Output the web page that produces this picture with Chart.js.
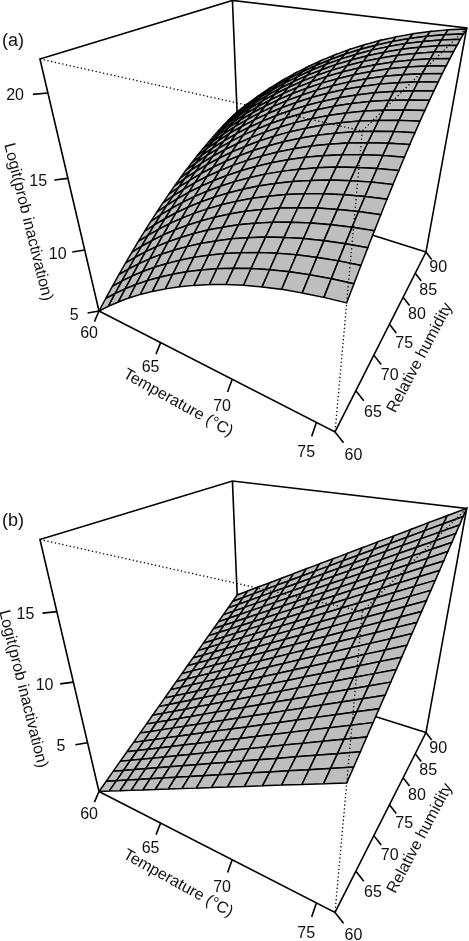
<!DOCTYPE html>
<html>
<head>
<meta charset="utf-8">
<title>Logit(prob inactivation) surfaces</title>
<script src="https://cdn.jsdelivr.net/npm/chart.js@4"></script>
<style>
    html, body { margin: 0; background: #fff; overflow: hidden; }
    canvas { position: absolute; left: 0; }
    #surfaceChartA { top: 0; }
    #surfaceChartB { top: 480px; }
</style>
</head>
<body>
<canvas id="surfaceChartA" width="469" height="480"></canvas>
<canvas id="surfaceChartB" width="469" height="480"></canvas>
<script>
// grid of the two fitted surfaces
const temperatures = [60, 61, 62, 63, 64, 65, 66, 67, 68, 69, 70, 71, 72, 73, 74, 75, 76];
const humidities = [60, 61.25, 62.5, 63.75, 65, 66.25, 67.5, 68.75, 70, 71.25, 72.5, 73.75, 75, 76.25, 77.5, 78.75, 80, 81.25, 82.5, 83.75, 85, 86.25, 87.5, 88.75, 90];

// tick labels
const temperatureTicks = [60, 65, 70, 75];
const humidityTicks = [60, 65, 70, 75, 80, 85, 90];
const logitTicksA = [5, 10, 15, 20];
const logitTicksB = [5, 10, 15];

// axis limits
const temperatureRange = [60, 76];
const humidityRange = [60, 90];
const logitRangeA = [5, 21.76];
const logitRangeB = [0.4, 19.4];

// logit per temperature (rows) and humidity (columns), estimated by eye from the mesh
// edges in the picture and smoothed by hand, so these are not exact readings
const logitA = [
    [5.00,5.52,6.02,6.51,6.98,7.43,7.87,8.29,8.69,9.08,9.45,9.80,10.14,10.46,10.77,11.05,11.33,11.58,11.82,12.04,12.25,12.44,12.62,12.77,12.91],
    [5.92,6.44,6.94,7.43,7.90,8.35,8.79,9.21,9.61,10.00,10.37,10.72,11.06,11.38,11.69,11.97,12.25,12.50,12.74,12.96,13.17,13.36,13.54,13.69,13.83],
    [6.79,7.31,7.81,8.30,8.77,9.22,9.66,10.08,10.48,10.87,11.24,11.59,11.93,12.25,12.56,12.84,13.12,13.37,13.61,13.83,14.04,14.23,14.41,14.56,14.70],
    [7.62,8.14,8.64,9.13,9.60,10.05,10.49,10.91,11.31,11.70,12.07,12.42,12.76,13.08,13.39,13.67,13.95,14.20,14.44,14.66,14.87,15.06,15.24,15.39,15.53],
    [8.39,8.91,9.41,9.90,10.37,10.82,11.26,11.68,12.08,12.47,12.84,13.19,13.53,13.85,14.16,14.44,14.72,14.97,15.21,15.43,15.64,15.83,16.01,16.16,16.30],
    [9.11,9.63,10.13,10.62,11.09,11.54,11.98,12.40,12.80,13.19,13.56,13.91,14.25,14.57,14.88,15.16,15.44,15.69,15.93,16.15,16.36,16.55,16.73,16.88,17.02],
    [9.78,10.30,10.80,11.29,11.76,12.21,12.65,13.07,13.47,13.86,14.23,14.58,14.92,15.24,15.55,15.83,16.11,16.36,16.60,16.82,17.03,17.22,17.40,17.55,17.69],
    [10.41,10.93,11.43,11.92,12.39,12.84,13.28,13.70,14.10,14.49,14.86,15.21,15.55,15.87,16.18,16.46,16.74,16.99,17.23,17.45,17.66,17.85,18.03,18.18,18.32],
    [10.98,11.50,12.00,12.49,12.96,13.41,13.85,14.27,14.67,15.06,15.43,15.78,16.12,16.44,16.75,17.03,17.31,17.56,17.80,18.02,18.23,18.42,18.60,18.75,18.89],
    [11.51,12.03,12.53,13.02,13.49,13.94,14.38,14.80,15.20,15.59,15.96,16.31,16.65,16.97,17.28,17.56,17.84,18.09,18.33,18.55,18.76,18.95,19.13,19.28,19.42],
    [11.98,12.50,13.00,13.49,13.96,14.41,14.85,15.27,15.67,16.06,16.43,16.78,17.12,17.44,17.75,18.03,18.31,18.56,18.80,19.02,19.23,19.42,19.60,19.75,19.89],
    [12.41,12.93,13.43,13.92,14.39,14.84,15.28,15.70,16.10,16.49,16.86,17.21,17.55,17.87,18.18,18.46,18.74,18.99,19.23,19.45,19.66,19.85,20.03,20.18,20.32],
    [12.78,13.30,13.80,14.29,14.76,15.21,15.65,16.07,16.47,16.86,17.23,17.58,17.92,18.24,18.55,18.83,19.11,19.36,19.60,19.82,20.03,20.22,20.40,20.55,20.69],
    [13.11,13.63,14.13,14.62,15.09,15.54,15.98,16.40,16.80,17.19,17.56,17.91,18.25,18.57,18.88,19.16,19.44,19.69,19.93,20.15,20.36,20.55,20.73,20.88,21.02],
    [13.38,13.90,14.40,14.89,15.36,15.81,16.25,16.67,17.07,17.46,17.83,18.18,18.52,18.84,19.15,19.43,19.71,19.96,20.20,20.42,20.63,20.82,21.00,21.15,21.29],
    [13.61,14.13,14.63,15.12,15.59,16.04,16.48,16.90,17.30,17.69,18.06,18.41,18.75,19.07,19.38,19.66,19.94,20.19,20.43,20.65,20.86,21.05,21.23,21.38,21.52],
    [13.79,14.31,14.81,15.30,15.77,16.22,16.66,17.08,17.48,17.87,18.24,18.59,18.93,19.25,19.56,19.84,20.12,20.37,20.61,20.83,21.04,21.23,21.41,21.56,21.70]
];

const logitB = [
    [0.40,0.76,1.13,1.49,1.85,2.21,2.58,2.94,3.30,3.66,4.03,4.39,4.75,5.11,5.48,5.84,6.20,6.56,6.93,7.29,7.65,8.01,8.38,8.74,9.10],
    [1.03,1.39,1.75,2.12,2.48,2.84,3.21,3.57,3.93,4.30,4.66,5.02,5.39,5.75,6.11,6.48,6.84,7.20,7.57,7.93,8.29,8.66,9.02,9.38,9.75],
    [1.65,2.01,2.38,2.74,3.11,3.47,3.83,4.20,4.56,4.93,5.29,5.66,6.02,6.38,6.75,7.11,7.48,7.84,8.20,8.57,8.93,9.30,9.66,10.02,10.39],
    [2.28,2.64,3.00,3.37,3.73,4.10,4.46,4.83,5.19,5.56,5.92,6.29,6.65,7.02,7.38,7.75,8.11,8.48,8.84,9.21,9.57,9.94,10.30,10.67,11.03],
    [2.90,3.27,3.63,4.00,4.36,4.73,5.09,5.46,5.83,6.19,6.56,6.92,7.29,7.65,8.02,8.39,8.75,9.12,9.48,9.85,10.21,10.58,10.95,11.31,11.68],
    [3.53,3.89,4.26,4.62,4.99,5.36,5.72,6.09,6.46,6.82,7.19,7.56,7.92,8.29,8.66,9.02,9.39,9.76,10.12,10.49,10.86,11.22,11.59,11.95,12.32],
    [4.15,4.52,4.88,5.25,5.62,5.99,6.35,6.72,7.09,7.46,7.82,8.19,8.56,8.92,9.29,9.66,10.03,10.39,10.76,11.13,11.50,11.86,12.23,12.60,12.97],
    [4.78,5.14,5.51,5.88,6.25,6.62,6.98,7.35,7.72,8.09,8.46,8.82,9.19,9.56,9.93,10.30,10.66,11.03,11.40,11.77,12.14,12.50,12.87,13.24,13.61],
    [5.40,5.77,6.14,6.51,6.88,7.24,7.61,7.98,8.35,8.72,9.09,9.46,9.83,10.20,10.56,10.93,11.30,11.67,12.04,12.41,12.78,13.15,13.52,13.88,14.25],
    [6.03,6.39,6.76,7.13,7.50,7.87,8.24,8.61,8.98,9.35,9.72,10.09,10.46,10.83,11.20,11.57,11.94,12.31,12.68,13.05,13.42,13.79,14.16,14.53,14.90],
    [6.65,7.02,7.39,7.76,8.13,8.50,8.87,9.24,9.61,9.98,10.36,10.73,11.10,11.47,11.84,12.21,12.58,12.95,13.32,13.69,14.06,14.43,14.80,15.17,15.54],
    [7.28,7.65,8.02,8.39,8.76,9.13,9.50,9.87,10.25,10.62,10.99,11.36,11.73,12.10,12.47,12.84,13.22,13.59,13.96,14.33,14.70,15.07,15.44,15.82,16.19],
    [7.90,8.27,8.64,9.02,9.39,9.76,10.13,10.50,10.88,11.25,11.62,11.99,12.37,12.74,13.11,13.48,13.85,14.23,14.60,14.97,15.34,15.71,16.09,16.46,16.83],
    [8.53,8.90,9.27,9.64,10.02,10.39,10.76,11.14,11.51,11.88,12.25,12.63,13.00,13.37,13.75,14.12,14.49,14.86,15.24,15.61,15.98,16.36,16.73,17.10,17.47],
    [9.15,9.52,9.90,10.27,10.64,11.02,11.39,11.77,12.14,12.51,12.89,13.26,13.63,14.01,14.38,14.76,15.13,15.50,15.88,16.25,16.62,17.00,17.37,17.75,18.12],
    [9.78,10.15,10.52,10.90,11.27,11.65,12.02,12.40,12.77,13.15,13.52,13.89,14.27,14.64,15.02,15.39,15.77,16.14,16.52,16.89,17.27,17.64,18.01,18.39,18.76],
    [10.40,10.78,11.15,11.53,11.90,12.28,12.65,13.03,13.40,13.78,14.15,14.53,14.90,15.28,15.65,16.03,16.40,16.78,17.15,17.53,17.90,18.28,18.65,19.03,19.40]
];

// viewing matrix of the box, same idea as the one R's persp() returns
// input is the position inside the box, 0 to 1 on every axis
const viewX = [99, 161.5, 233.2, -69];
const viewY = [311, 24.9, -43.8, -266.7];
const viewW = [1, -0.2224, 0.3814, -0.249];

const tickSize = 0.03;
const labelOffset = 0.065;
const fontFamily = '"Liberation Sans", Arial, sans-serif';
const ink = "#000";

function project(u, v, w) {
    const d = viewW[0] + viewW[1] * u + viewW[2] * v + viewW[3] * w;
    return {
        x: (viewX[0] + viewX[1] * u + viewX[2] * v + viewX[3] * w) / d,
        y: (viewY[0] + viewY[1] * u + viewY[2] * v + viewY[3] * w) / d
    };
}

function toUnit(value, range) {
    return (value - range[0]) / (range[1] - range[0]);
}

function lineDataset(points, order, dotted) {
    return {
        data: points.map(p => project(p[0], p[1], p[2])),
        showLine: true,
        fill: false,
        pointRadius: 0,
        borderColor: ink,
        borderWidth: dotted ? 1.3 : 1.6,
        borderDash: dotted ? [1.3, 2.5] : [],
        order: order
    };
}

function makePanel(canvasId, panel) {
    const datasets = [];
    const T = t => toUnit(t, temperatureRange);
    const H = h => toUnit(h, humidityRange);
    const Z = z => toUnit(z, panel.logitRange);

    // box edges behind the surface
    datasets.push(lineDataset([[0, 1, 1], [0, 1, 0]], 5000));
    datasets.push(lineDataset([[0, 1, 0], [1, 1, 0]], 5000));

    // surface cells, far corner first
    let order = 4000;
    for (let j = humidities.length - 2; j >= 0; j--) {
        for (let i = 0; i < temperatures.length - 1; i++) {
            const corners = [[i, j], [i + 1, j], [i + 1, j + 1], [i, j + 1], [i, j]];
            datasets.push({
                data: corners.map(c => project(T(temperatures[c[0]]), H(humidities[c[1]]), Z(panel.surface[c[0]][c[1]]))),
                showLine: true,
                fill: "shape",
                backgroundColor: "#bebebe",
                borderColor: ink,
                borderWidth: 1.5,
                pointRadius: 0,
                order: order--
            });
        }
    }

    // box edges in front
    datasets.push(lineDataset([[0, 0, 0], [0, 0, 1], [0, 1, 1], [1, 1, 1], [1, 1, 0], [1, 0, 0], [0, 0, 0]], 2));
    datasets.push(lineDataset([[0, 0, 1], [1, 0, 1], [1, 1, 1]], 1, true));
    datasets.push(lineDataset([[1, 0, 1], [1, 0, 0]], 1, true));

    // ticks
    temperatureTicks.forEach(t => {
        datasets.push(lineDataset([[T(t), 0, 0], [T(t), -tickSize, -tickSize]], 0));
    });
    humidityTicks.forEach(h => {
        datasets.push(lineDataset([[1, H(h), 0], [1 + tickSize, H(h), -tickSize]], 0));
    });
    panel.logitTicks.forEach(z => {
        datasets.push(lineDataset([[0, 0, Z(z)], [-tickSize, -tickSize, Z(z)]], 0));
    });

    // text is drawn last, on top of everything
    const textPlugin = {
        id: "axisText",
        afterDraw(chart) {
            const ctx = chart.ctx;
            const sx = chart.scales.x;
            const sy = chart.scales.y;
            const put = (text, x, y, angle, size) => {
                ctx.save();
                ctx.translate(sx.getPixelForValue(x), sy.getPixelForValue(y));
                ctx.rotate(angle * Math.PI / 180);
                ctx.font = size + "px " + fontFamily;
                ctx.fillStyle = "#111";
                ctx.textAlign = "center";
                ctx.textBaseline = "middle";
                ctx.fillText(text, 0, 0);
                ctx.restore();
            };
            const o = labelOffset;
            temperatureTicks.forEach(t => {
                const p = project(T(t), -o, -o);
                put(String(t), p.x, p.y, 0, 16);
            });
            humidityTicks.forEach(h => {
                const p = project(1 + o, H(h), -o);
                put(String(h), p.x, p.y, 0, 16);
            });
            panel.logitTicks.forEach(z => {
                const p = project(-o, -o, Z(z));
                put(String(z), p.x, p.y, 0, 16);
            });
            put("Temperature (\u00b0C)", 178, 403, 29, 16);
            put("Relative humidity", 420, 358, -62, 16);
            put("Logit(prob inactivation)", panel.logitLabel[0], panel.logitLabel[1], 76, 16);
            put(panel.tag, 13, 41, 0, 18);
        }
    };

    return new Chart(document.getElementById(canvasId), {
        type: "scatter",
        data: { datasets: datasets },
        options: {
            responsive: false,
            animation: false,
            events: [],
            layout: { padding: 0 },
            elements: { line: { tension: 0 } },
            plugins: {
                legend: { display: false },
                tooltip: { enabled: false }
            },
            scales: {
                x: { type: "linear", display: false, min: 0, max: 469 },
                y: { type: "linear", display: false, reverse: true, min: panel.yStart, max: panel.yStart + 480 }
            }
        },
        plugins: [textPlugin]
    });
}

makePanel("surfaceChartA", {
    surface: logitA,
    logitRange: logitRangeA,
    logitTicks: logitTicksA,
    logitLabel: [28, 222],
    tag: "(a)",
    yStart: 0
});

makePanel("surfaceChartB", {
    surface: logitB,
    logitRange: logitRangeB,
    logitTicks: logitTicksB,
    logitLabel: [23, 208.5],
    tag: "(b)",
    yStart: -0.5
});
</script>
</body>
</html>
